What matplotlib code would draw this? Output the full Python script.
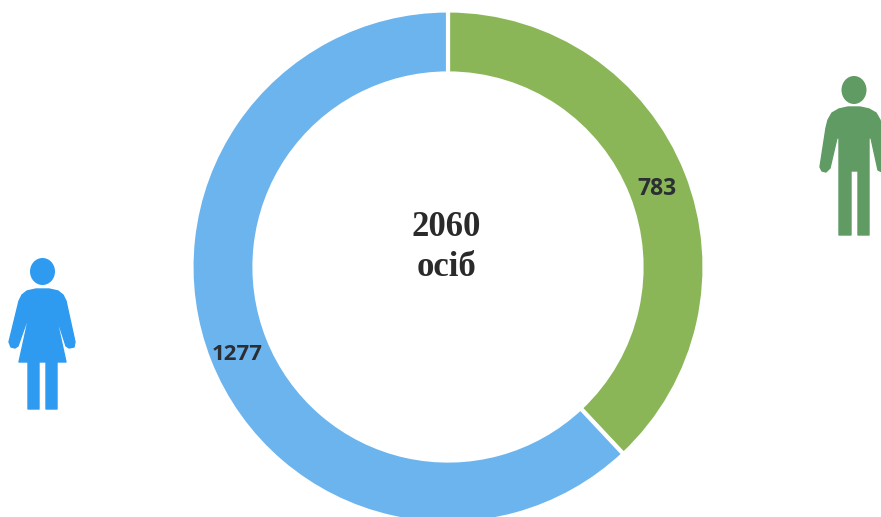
import matplotlib
matplotlib.use("Agg")
import matplotlib.pyplot as plt
from matplotlib.patches import Ellipse, Polygon

W, H = 881, 517

values = [783, 1277]
labels = ["783", "1277"]
colors = ["#8AB657", "#6CB4EE"]
center_text = ["2060", "осіб"]

man_color = "#5F9B63"
woman_color = "#2E9BF0"

man_head = (854, 90, 25, 28)
man_body = [(848, 107), (860, 107), (869, 109), (876, 113), (880, 120), (882, 128), (888, 166),
            (887, 170), (882, 172), (878, 170), (871, 138), (869, 138), (869, 235),
            (858, 235), (858, 171), (851, 171), (851, 235), (839, 235), (839, 138),
            (837, 138), (830, 168), (826, 172), (822, 171), (820, 167), (826, 128),
            (828, 120), (832, 113), (839, 109)]

woman_head = (42.5, 271.5, 25, 27)
woman_body = [(36, 289), (49, 289), (58, 291), (63, 295), (66, 301), (75, 342), (74, 347),
              (69, 348), (66, 346), (55, 312), (66, 362), (57, 362), (57, 409), (46, 409),
              (46, 362), (39, 362), (39, 409), (28, 409), (28, 362), (19, 362), (30, 312),
              (18, 346), (15, 348), (11, 347), (9, 342), (19, 301), (22, 295), (27, 291)]


def px_axes(fig, left, top, width, height):
    return fig.add_axes([left / W, 1 - (top + height) / H, width / W, height / H])


fig = plt.figure(figsize=(W / 100, H / 100), dpi=100, facecolor="white")

# ring, same pixel box as the picture (bottom runs a bit off the figure)
ax = px_axes(fig, 193, 12, 510, 510)
wedges, _ = ax.pie(values, colors=colors, startangle=90, counterclock=False, radius=1.006,
                   wedgeprops={"width": 63 / 255, "edgecolor": "white", "linewidth": 3})
ax.set_xlim(-1, 1)
ax.set_ylim(-1, 1)
ax.axis("off")

# overlay in image pixels for the text and the two figures
over = px_axes(fig, 0, 0, W, H)
over.set_xlim(0, W)
over.set_ylim(H, 0)
over.axis("off")
over.patch.set_alpha(0)

over.text(656.5, 189, labels[0], ha="center", va="center", fontsize=16.5, fontweight="bold",
          family="Open Sans", color="#2B2F33")
over.text(237, 354, labels[1], ha="center", va="center", fontsize=16, fontweight="bold",
          family="Open Sans", color="#2B2F33")
over.text(446.5, 227, center_text[0], ha="center", va="center", fontsize=25, fontweight="bold",
          family="Liberation Serif", color="#2A2A2A")
over.text(447, 268, center_text[1], ha="center", va="center", fontsize=25, fontweight="bold",
          family="Liberation Serif", color="#2A2A2A")

for head, body, col in [(man_head, man_body, man_color), (woman_head, woman_body, woman_color)]:
    over.add_patch(Ellipse(head[:2], head[2], head[3], facecolor=col, edgecolor="none"))
    over.add_patch(Polygon(body, closed=True, facecolor=col, edgecolor=col, linewidth=1,
                           joinstyle="round"))

fig.savefig("out.png", dpi=100)
